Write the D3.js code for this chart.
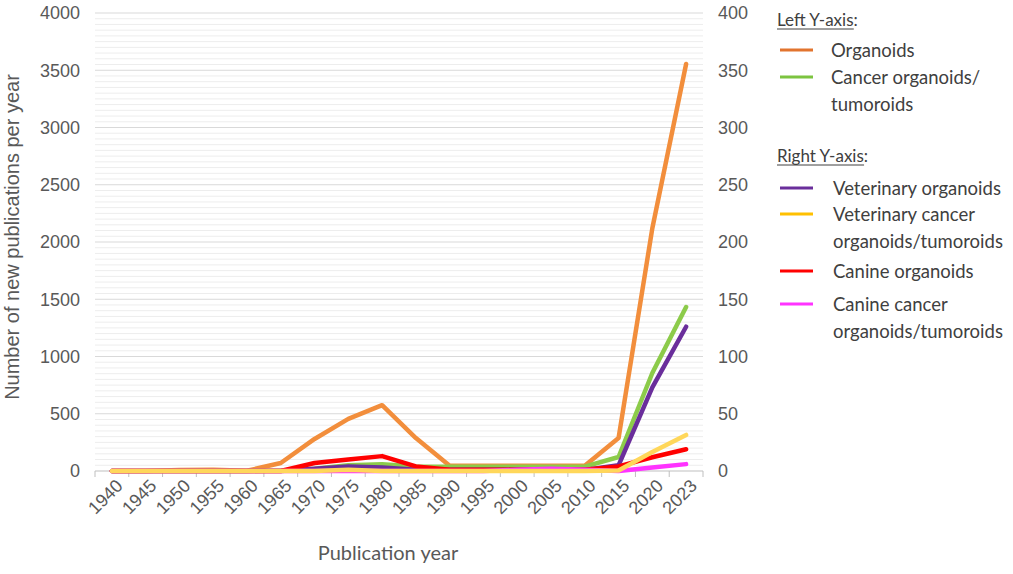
<!DOCTYPE html>
<html>
<head>
<meta charset="utf-8">
<script src="https://cdn.jsdelivr.net/npm/d3@7"></script>
<style>
  body { margin: 0; background: #fff; }
  svg { display: block; }
</style>
</head>
<body>
<svg id="chart" width="1013" height="574"></svg>
<script>
// categories (x axis)
const years = ["1940","1945","1950","1955","1960","1965","1970","1975","1980","1985",
               "1990","1995","2000","2005","2010","2015","2020","2023"];

// left axis series
const organoids       = [0, 0, 8, 10, 2, 70, 280, 455, 575, 288, 45, 45, 45, 45, 45, 288, 2120, 3555];
const cancerOrganoids = [0, 0, 0, 0, 0, 5, 20, 50, 60, 40, 38, 38, 38, 38, 38, 122, 856, 1432];

// right axis series
const vetOrganoids       = [0, 0, 0, 0, 0, 0, 2, 4, 3, 1, 1, 1, 1, 1, 1, 5, 73, 126];
const vetCancerOrganoids = [0, 0, 0, 0, 0, 0, 0, 1, 0, 0, 0, 0, 0, 0, 0, 0.5, 16.6, 31.5];
const canineOrganoids    = [0, 0, 0, 0, 0, 0, 7, 10, 13, 4, 1, 1, 1, 1, 1, 4, 12, 19];
const canineCancer       = [0, 0, 0, 0, 0, 0, 0, 0, 0, 0, 0, 0, 1, 2, 1, 0, 3, 6];

const leftTicks = [0, 500, 1000, 1500, 2000, 2500, 3000, 3500, 4000];
const rightTicks = [0, 50, 100, 150, 200, 250, 300, 350, 400];

const svg = d3.select("#chart");
const plotLeft = 95, plotRight = 703, plotTop = 13, plotBottom = 471;
const tickFont = "Liberation Sans, Arial, sans-serif";

const x = d3.scaleBand().domain(years).range([plotLeft, plotRight]).padding(0);
const yL = d3.scaleLinear().domain([0, 4000]).range([plotBottom, plotTop]);
const yR = d3.scaleLinear().domain([0, 400]).range([plotBottom, plotTop]);
const cx = d => x(d) + x.bandwidth() / 2;

// minor gridlines
svg.append("g")
  .selectAll("line")
  .data(d3.range(50, 4000, 50).filter(v => v % 500 !== 0))
  .join("line")
  .attr("x1", plotLeft).attr("x2", plotRight)
  .attr("y1", d => yL(d)).attr("y2", d => yL(d))
  .attr("stroke", "#ededed").attr("stroke-width", 1);

// major gridlines
svg.append("g")
  .selectAll("line")
  .data(leftTicks.slice(1))
  .join("line")
  .attr("x1", plotLeft).attr("x2", plotRight)
  .attr("y1", d => yL(d)).attr("y2", d => yL(d))
  .attr("stroke", "#d9d9d9").attr("stroke-width", 1);

// x axis baseline + ticks between categories
svg.append("line")
  .attr("x1", plotLeft).attr("x2", plotRight)
  .attr("y1", plotBottom).attr("y2", plotBottom)
  .attr("stroke", "#bfbfbf");
svg.append("g")
  .selectAll("line")
  .data(years.map(d => x(d)).concat([plotRight]))
  .join("line")
  .attr("x1", d => d).attr("x2", d => d)
  .attr("y1", plotBottom).attr("y2", plotBottom + 6)
  .attr("stroke", "#bfbfbf");

// left y axis labels
svg.append("g")
  .attr("transform", `translate(${plotLeft}, 0)`)
  .call(d3.axisLeft(yL).tickValues(leftTicks).tickFormat(d3.format("d")).tickSize(0).tickPadding(15))
  .call(g => g.select(".domain").remove())
  .selectAll("text")
  .attr("font-family", tickFont)
  .attr("font-size", "18px")
  .attr("fill", "#595959");

// right y axis labels
svg.append("g")
  .attr("transform", `translate(${plotRight}, 0)`)
  .call(d3.axisRight(yR).tickValues(rightTicks).tickFormat(d3.format("d")).tickSize(0).tickPadding(15))
  .call(g => g.select(".domain").remove())
  .selectAll("text")
  .attr("font-family", tickFont)
  .attr("font-size", "18px")
  .attr("fill", "#595959");

// x tick labels, rotated
svg.append("g")
  .selectAll("text")
  .data(years)
  .join("text")
  .attr("transform", d => `translate(${cx(d) + 3}, ${plotBottom + 7}) rotate(-45)`)
  .attr("text-anchor", "end")
  .attr("dy", "0.71em")
  .attr("font-family", tickFont)
  .attr("font-size", "18px")
  .attr("fill", "#595959")
  .text(d => d);

// axis titles
svg.append("text")
  .attr("transform", `translate(19, 237) rotate(-90)`)
  .attr("text-anchor", "middle")
  .attr("font-family", tickFont)
  .attr("font-size", "20px")
  .attr("fill", "#595959")
  .text("Number of new publications per year");

svg.append("text")
  .attr("x", 388)
  .attr("y", 560)
  .attr("text-anchor", "middle")
  .attr("font-family", "Lato, sans-serif")
  .attr("font-size", "20px")
  .attr("fill", "#595959")
  .text("Publication year");

// series
const series = [
  { name: "Organoids", values: organoids, scale: yL, color: "#f28e3c" },
  { name: "Cancer organoids/tumoroids", values: cancerOrganoids, scale: yL, color: "#8ccb4a" },
  { name: "Veterinary organoids", values: vetOrganoids, scale: yR, color: "#6a2e9b" },
  { name: "Canine organoids", values: canineOrganoids, scale: yR, color: "#ff0000" },
  { name: "Canine cancer organoids/tumoroids", values: canineCancer, scale: yR, color: "#ff33ff" },
  { name: "Veterinary cancer organoids/tumoroids", values: vetCancerOrganoids, scale: yR, color: "#ffd75a" }
];

series.forEach(s => {
  const line = d3.line()
    .x((d, i) => cx(years[i]))
    .y(d => s.scale(d));
  svg.append("path")
    .datum(s.values)
    .attr("d", line)
    .attr("fill", "none")
    .attr("stroke", s.color)
    .attr("stroke-width", 4.5)
    .attr("stroke-linejoin", "round")
    .attr("stroke-linecap", "round");
});

// legend
const legend = svg.append("g").attr("font-family", "Lato, sans-serif").attr("fill", "#404040");

const headers = [
  { text: "Left Y-axis:", y: 26 },
  { text: "Right Y-axis:", y: 162 }
];
headers.forEach(h => {
  const t = legend.append("text").attr("x", 777).attr("y", h.y).attr("font-size", "17px").text(h.text);
  const w = t.node().getComputedTextLength();
  legend.append("line")
    .attr("x1", 777).attr("x2", 777 + w - 4)
    .attr("y1", h.y + 3).attr("y2", h.y + 3)
    .attr("stroke", "#404040").attr("stroke-width", 1);
});

const legendItems = [
  { lines: ["Organoids"], color: "#e2742e", y: 50, tx: 831 },
  { lines: ["Cancer organoids/", "tumoroids"], color: "#7cc440", y: 77, tx: 831 },
  { lines: ["Veterinary organoids"], color: "#6a2e9b", y: 188, tx: 833 },
  { lines: ["Veterinary cancer", "organoids/tumoroids"], color: "#ffc000", y: 214, tx: 833 },
  { lines: ["Canine organoids"], color: "#ff0000", y: 271, tx: 833 },
  { lines: ["Canine cancer", "organoids/tumoroids"], color: "#ff33ff", y: 304, tx: 833 }
];

legendItems.forEach(item => {
  legend.append("line")
    .attr("x1", 780).attr("x2", 813)
    .attr("y1", item.y).attr("y2", item.y)
    .attr("stroke", item.color).attr("stroke-width", 3);
  item.lines.forEach((l, i) => {
    legend.append("text")
      .attr("x", item.tx)
      .attr("y", item.y + 7 + i * 27)
      .attr("font-size", "18.5px")
      .text(l);
  });
});
</script>
</body>
</html>
